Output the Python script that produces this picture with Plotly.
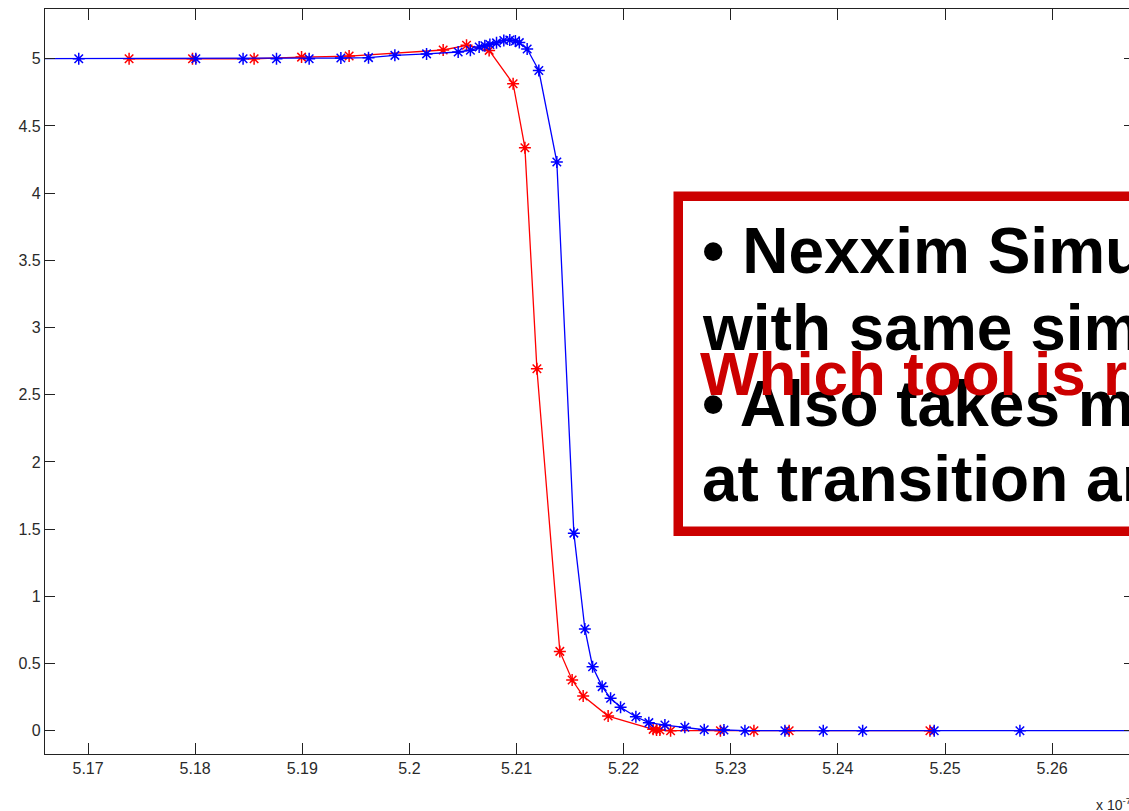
import plotly.graph_objects as go

# ---- data (x in units of the "x 10^" axis multiplier) ----
blue_x = [5.1600, 5.16913, 5.18006, 5.18447, 5.18759, 5.19064, 5.19360, 5.19618, 5.19864,
          5.20160, 5.20455, 5.20569, 5.20651, 5.20704, 5.20751, 5.20813, 5.20881, 5.20937,
          5.20989, 5.21026, 5.21099, 5.21208, 5.21376, 5.21535, 5.21638, 5.21710, 5.21799,
          5.21878, 5.21971, 5.22114, 5.22235, 5.22385, 5.22571, 5.22752, 5.22936, 5.23132,
          5.23505, 5.23863, 5.24231, 5.24899, 5.25699, 5.2800]
blue_y = [5.0, 5.0, 5.0, 5.0, 5.0, 5.0, 5.005, 5.008, 5.025,
          5.036, 5.05, 5.063, 5.087, 5.097, 5.106, 5.118, 5.136, 5.14,
          5.132, 5.12, 5.072, 4.912, 4.232, 1.47, 0.757, 0.476, 0.328,
          0.241, 0.174, 0.104, 0.060, 0.042, 0.025, 0.007, 0.005, 0.0,
          0.0, 0.0, 0.0, 0.0, 0.0, 0.0]

red_x = [5.17383, 5.17975, 5.18550, 5.18993, 5.19437, 5.20315, 5.20533, 5.20744, 5.20968,
         5.21078, 5.21190, 5.21404, 5.21519, 5.21622, 5.21855, 5.22275, 5.22307, 5.22338,
         5.22438, 5.22903, 5.23216, 5.23545, 5.24859]
red_y = [5.0, 5.0, 5.0, 5.012, 5.02, 5.065, 5.10, 5.062, 4.814,
         4.338, 2.693, 0.59, 0.377, 0.258, 0.109, 0.010, 0.005, 0.005,
         0.0, 0.0, 0.0, 0.0, 0.0]

x_ticks = [5.17, 5.18, 5.19, 5.20, 5.21, 5.22, 5.23, 5.24, 5.25, 5.26]
x_tick_text = ["5.17", "5.18", "5.19", "5.2", "5.21", "5.22", "5.23", "5.24", "5.25", "5.26"]
y_ticks = [0, 0.5, 1, 1.5, 2, 2.5, 3, 3.5, 4, 4.5, 5]
y_tick_text = ["0", "0.5", "1", "1.5", "2", "2.5", "3", "3.5", "4", "4.5", "5"]

black_lines = ["• Nexxim Simulator shows a different waveform",
               "with same simulation settings",
               "• Also takes more time points",
               "at transition area"]
red_line = "Which tool is right?"

fig = go.Figure()
fig.add_trace(go.Scatter(x=red_x, y=red_y, mode="lines+markers",
                         line=dict(color="#ff0000", width=1.3),
                         marker=dict(symbol="asterisk-open", size=10,
                                     line=dict(color="#ff0000", width=1.5)),
                         showlegend=False))
fig.add_trace(go.Scatter(x=blue_x, y=blue_y, mode="lines+markers",
                         line=dict(color="#0000ff", width=1.3),
                         marker=dict(symbol="asterisk-open", size=10,
                                     line=dict(color="#0000ff", width=1.5)),
                         showlegend=False))

tickfont = dict(family="Liberation Sans, Arial, sans-serif", size=16, color="#2a2a2a")
fig.update_xaxes(range=[5.16598, 5.26764], tickvals=x_ticks, ticktext=x_tick_text,
                 ticks="inside", ticklen=11, tickcolor="#222", tickwidth=1.3,
                 showline=True, linecolor="#222", linewidth=1.3, mirror="allticks",
                 showgrid=False, zeroline=False, tickfont=tickfont)
fig.update_yaxes(range=[-0.1734, 5.370], tickvals=y_ticks, ticktext=y_tick_text,
                 ticks="inside", ticklen=10, tickcolor="#222", tickwidth=1.3,
                 showline=True, linecolor="#222", linewidth=1.3, mirror="allticks",
                 showgrid=False, zeroline=False, tickfont=tickfont)

# text box
fig.add_shape(type="rect", xref="paper", yref="paper",
              x0=0.5815, x1=1.1, y0=0.2989, y1=0.7487,
              line=dict(color="#cc0000", width=9.5), fillcolor="white", layer="above")

bfont = dict(family="Liberation Sans, Arial, sans-serif", size=64, color="black")
for txt, yp in zip(black_lines, [0.6757, 0.5723, 0.4703, 0.3687]):
    fig.add_annotation(xref="paper", yref="paper", x=0.6015, y=yp, text="<b>" + txt + "</b>",
                       showarrow=False, xanchor="left", yanchor="middle", font=bfont)
fig.add_annotation(xref="paper", yref="paper", x=0.5996, y=0.5110, text="<b>" + red_line + "</b>",
                   showarrow=False, xanchor="left", yanchor="middle",
                   font=dict(family="Liberation Sans, Arial, sans-serif", size=62, color="#cc0000"))

fig.add_annotation(xref="paper", yref="paper", x=0.9630, y=-0.0671, text="x 10<sup>-7</sup>",
                   showarrow=False, xanchor="left", yanchor="middle",
                   font=dict(family="Liberation Sans, Arial, sans-serif", size=14, color="#2a2a2a"))

fig.update_layout(width=1134, height=811, margin=dict(l=45, r=0, t=9, b=57),
                  plot_bgcolor="white", paper_bgcolor="white")

page_js = ("document.documentElement.style.overflow='hidden';"
           "document.body.style.margin='0';document.body.style.overflow='hidden';")
fig.write_html("out.html", post_script=page_js, config={"displayModeBar": False})
